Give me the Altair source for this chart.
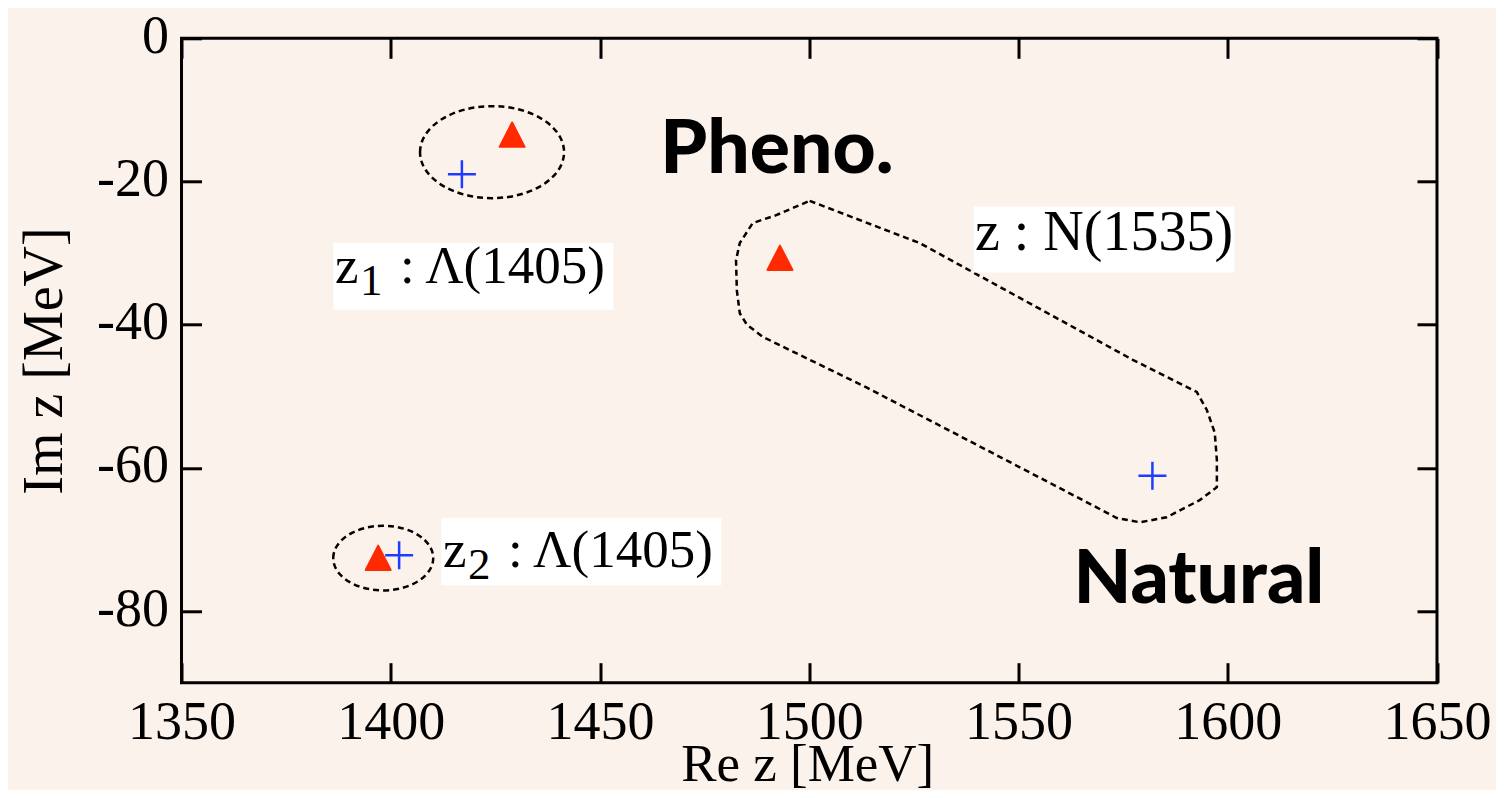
import altair as alt
import pandas as pd

# ---------------- data ----------------
tri_re = [1429.0, 1493.0, 1397.0]          # red triangles (Re z)
tri_im = [-13.5, -30.7, -72.6]             # red triangles (Im z)
plus_re = [1417.0, 1582.0, 1402.0]         # blue crosses (Re z)
plus_im = [-19.0, -61.1, -72.2]            # blue crosses (Im z)

ell_re = [1424.2, 1398.2]                  # dashed ellipse centres
ell_im = [-15.9, -72.6]

cont_re = [1500.1, 1526.4, 1577.3, 1592.6, 1595.0, 1596.9, 1597.4, 1597.4,
           1593.3, 1585.4, 1579.0, 1573.5, 1557.5, 1513.8, 1488.9, 1485.1,
           1483.4, 1482.7, 1482.5, 1483.4, 1486.5, 1492.1]
cont_im = [-22.7, -28.6, -44.9, -49.4, -51.9, -55.1, -58.9, -62.7,
           -64.5, -66.9, -67.6, -67.0, -62.1, -48.8, -41.7, -40.0,
           -38.4, -35.2, -31.0, -28.6, -25.8, -24.7]

box_re1 = [1386.3, 1412.1, 1539.3]
box_re2 = [1453.2, 1479.0, 1601.6]
box_im1 = [-28.6, -67.0, -23.5]
box_im2 = [-37.9, -76.4, -32.7]

lam_re = [1386.7, 1412.5]
lam_im = [-34.2, -73.8]
lam_z = ["z", "z"]
lam_sub = ["1", "2"]
lam_rest = [": \u039b(1405)", ": \u039b(1405)"]

n_re = [1539.6]
n_im = [-29.6]
n_text = ["z : N(1535)"]

big_re = [1492.3, 1593.1]
big_im = [-18.85, -78.9]
big_text = ["Pheno.", "Natural"]

x_ticks = [1350, 1400, 1450, 1500, 1550, 1600, 1650]
y_ticks = [0, -20, -40, -60, -80]
x_domain = [1350, 1650]
y_domain = [-90, 0]

# ---------------- tables ----------------
tri_df = pd.DataFrame({"re": tri_re, "im": tri_im})
plus_df = pd.DataFrame({"re": plus_re, "im": plus_im})
ell_df = pd.DataFrame({"re": ell_re, "im": ell_im})
cont_df = pd.DataFrame({"re": cont_re, "im": cont_im, "i": list(range(len(cont_re)))})
box_df = pd.DataFrame({"x1": box_re1, "x2": box_re2, "y1": box_im1, "y2": box_im2})
lam_df = pd.DataFrame({"re": lam_re, "im": lam_im, "z": lam_z, "sub": lam_sub, "rest": lam_rest})
n_df = pd.DataFrame({"re": n_re, "im": n_im, "t": n_text})
big_df = pd.DataFrame({"re": big_re, "im": big_im, "t": big_text})

# ---------------- style ----------------
W, H = 1255.5, 644.4
BG = "#FCF2EC"
SERIF = "Liberation Serif"
LINE_W = 3

xs = alt.Scale(domain=x_domain, nice=False, zero=False)
ys = alt.Scale(domain=y_domain, nice=False, zero=False)

main_x_axis = alt.Axis(values=x_ticks, orient="bottom", ticks=False, tickSize=0, domain=False,
                       grid=False, labelFont=SERIF, labelFontSize=54, labelColor="black",
                       labelExpr="toString(datum.value)",
                       labelPadding=13, labelFlush=False, labelOverlap=False, labelBound=False,
                       title="Re z [MeV]", titleFont=SERIF, titleFontSize=53, titleFontWeight="normal",
                       titleColor="black", titleX=W / 2 - 2, titleY=98, titleBaseline="alphabetic",
                       titleAlign="center")
main_y_axis = alt.Axis(values=y_ticks, orient="left", ticks=False, tickSize=0, domain=False,
                       grid=False, labelFont=SERIF, labelFontSize=54, labelColor="black",
                       labelExpr="toString(datum.value)",
                       labelPadding=13, labelFlush=False, labelOverlap=False, labelBound=False,
                       labelOffset=-2,
                       title="Im z [MeV]", titleFont=SERIF, titleFontSize=56, titleFontWeight="normal",
                       titleColor="black", titleX=-120, titleY=H / 2, titleAngle=270,
                       titleBaseline="alphabetic", titleAlign="center")


def tick_axis(values, orient, offset):
    return alt.Axis(values=values, orient=orient, offset=offset, ticks=True, tickSize=20,
                    tickWidth=LINE_W, tickColor="black", labels=False, domain=False,
                    grid=False, title=None)


base = alt.Chart(tri_df).mark_point(opacity=0).encode(
    x=alt.X("re:Q", scale=xs, axis=main_x_axis),
    y=alt.Y("im:Q", scale=ys, axis=main_y_axis),
)
ticks_a = alt.Chart(tri_df).mark_point(opacity=0).encode(
    x=alt.X("re:Q", scale=xs, axis=tick_axis(x_ticks, "top", -H)),
    y=alt.Y("im:Q", scale=ys, axis=tick_axis(y_ticks, "right", -W)),
)
ticks_b = alt.Chart(tri_df).mark_point(opacity=0).encode(
    x=alt.X("re:Q", scale=xs, axis=tick_axis(x_ticks, "bottom", -H)),
    y=alt.Y("im:Q", scale=ys, axis=tick_axis(y_ticks, "left", -W)),
)

NX = alt.X("re:Q", scale=xs, axis=None)
NY = alt.Y("im:Q", scale=ys, axis=None)

contour = alt.Chart(cont_df).mark_line(
    interpolate="linear-closed", color="black", strokeWidth=2.5, strokeDash=[6, 4]
).encode(x=NX, y=NY, order=alt.Order("i:Q"))


def ellipse_path(r):
    k = 0.5523
    return (f"M -1 0 C -1 {-k*r:.4f} {-k:.4f} {-r:.4f} 0 {-r:.4f} "
            f"C {k:.4f} {-r:.4f} 1 {-k*r:.4f} 1 0 "
            f"C 1 {k*r:.4f} {k:.4f} {r:.4f} 0 {r:.4f} "
            f"C {-k:.4f} {r:.4f} -1 {k*r:.4f} -1 0 Z")


ell1 = alt.Chart(ell_df.iloc[[0]]).mark_point(
    shape=ellipse_path(0.639), size=144 ** 2, filled=False, stroke="black",
    strokeWidth=2.5, strokeDash=[6, 4], opacity=1
).encode(x=NX, y=NY)
ell2 = alt.Chart(ell_df.iloc[[1]]).mark_point(
    shape=ellipse_path(0.646), size=100 ** 2, filled=False, stroke="black",
    strokeWidth=2.5, strokeDash=[6, 4], opacity=1
).encode(x=NX, y=NY)

boxes = alt.Chart(box_df).mark_rect(color="white").encode(
    x=alt.X("x1:Q", scale=xs, axis=None), x2="x2:Q",
    y=alt.Y("y1:Q", scale=ys, axis=None), y2="y2:Q",
)

RED = "#FF2A00"
BLUE = "#1E3CFF"
tris = alt.Chart(tri_df).mark_point(
    shape="M 0 -1 L 1 0.95 L -1 0.95 Z", size=25 ** 2, filled=True, fill=RED,
    stroke=RED, strokeWidth=2, strokeJoin="round", opacity=1
).encode(x=NX, y=NY)
pluses = alt.Chart(plus_df).mark_point(
    shape="M -1 0 L 1 0 M 0 -1 L 0 1", size=28 ** 2, filled=False, stroke=BLUE,
    strokeWidth=2.5, opacity=1
).encode(x=NX, y=NY)

lam_z_t = alt.Chart(lam_df).mark_text(
    font=SERIF, fontSize=53, align="left", baseline="alphabetic", color="black"
).encode(x=NX, y=NY, text="z:N")
lam_sub_t = alt.Chart(lam_df).mark_text(
    font=SERIF, fontSize=45, align="left", baseline="alphabetic", color="black", dx=25, dy=12
).encode(x=NX, y=NY, text="sub:N")
lam_rest_t = alt.Chart(lam_df).mark_text(
    font=SERIF, fontSize=53, align="left", baseline="alphabetic", color="black", dx=65
).encode(x=NX, y=NY, text="rest:N")
n_t = alt.Chart(n_df).mark_text(
    font=SERIF, fontSize=56, align="left", baseline="alphabetic", color="black"
).encode(x=NX, y=NY, text="t:N")

big_t = alt.Chart(big_df).mark_text(
    font="Lato", fontWeight=900, fontSize=75, align="center",
    baseline="alphabetic", color="black"
).encode(x=NX, y=NY, text="t:N")

chart = alt.layer(
    base, ticks_a, ticks_b, contour, ell1, ell2, boxes, tris, pluses,
    lam_z_t, lam_sub_t, lam_rest_t, n_t, big_t
).resolve_axis(x="independent", y="independent").properties(
    width=W, height=H,
    autosize=alt.AutoSizeParams(type="none"),
    padding={"left": 173.5, "top": 30.3, "right": 59, "bottom": 107},
    background=BG,
).configure_view(stroke="black", strokeWidth=LINE_W)

chart.save("out.html", embed_options={"renderer": "svg", "actions": False})
